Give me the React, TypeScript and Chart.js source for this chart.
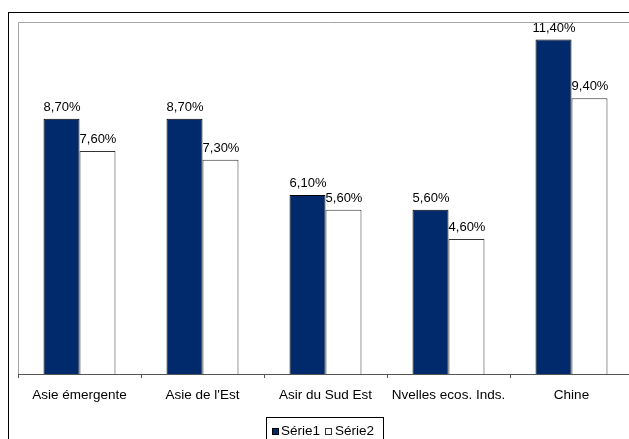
import React, { useEffect, useRef } from "react";
import { Chart, registerables } from "chart.js";

Chart.register(...registerables);

const categories = ["Asie émergente", "Asie de l'Est", "Asir du Sud Est", "Nvelles ecos. Inds.", "Chine"];
const serie1 = [8.7, 8.7, 6.1, 5.6, 11.4];
const serie2 = [7.6, 7.3, 5.6, 4.6, 9.4];
const seriesNames = ["Série1", "Série2"];
const yMin = 0;
const yMax = 12;

const FONT = "'Liberation Sans', Arial, sans-serif";
const NAVY = "#002a6b";

const fmt = (v: number) => v.toFixed(2).replace(".", ",") + "%";

export default function App() {
  const ref = useRef<HTMLCanvasElement | null>(null);

  useEffect(() => {
    document.body.style.margin = "0";
    const canvas = ref.current!;
    const framePlugin = {
      id: "frame",
      beforeDraw(chart: any) {
        const ctx = chart.ctx;
        const a = chart.chartArea;
        ctx.save();
        ctx.fillStyle = "#fff";
        ctx.fillRect(0, 0, chart.width, chart.height);
        ctx.strokeStyle = "#000";
        ctx.lineWidth = 1;
        ctx.strokeRect(8.5, 12.5, chart.width + 20, chart.height + 20);
        ctx.strokeStyle = "#a6a6a6";
        ctx.beginPath();
        ctx.moveTo(a.left + 0.5, a.bottom);
        ctx.lineTo(a.left + 0.5, a.top + 0.5);
        ctx.lineTo(chart.width + 5, a.top + 0.5);
        ctx.stroke();
        ctx.restore();
      },
      afterDraw(chart: any) {
        const ctx = chart.ctx;
        ctx.save();
        ctx.font = `13px ${FONT}`;
        ctx.fillStyle = "#000";
        ctx.textAlign = "center";
        ctx.textBaseline = "alphabetic";
        chart.data.datasets.forEach((ds: any, di: number) => {
          const meta = chart.getDatasetMeta(di);
          meta.data.forEach((bar: any, i: number) => {
            ctx.fillText(fmt(ds.data[i]), bar.x + 0.5, bar.y - 8);
          });
        });
        // legend
        ctx.font = `13.5px ${FONT}`;
        const lx = 266.5, ly = 417.5, lw = 117, lh = 30;
        ctx.strokeStyle = "#000";
        ctx.lineWidth = 1;
        ctx.strokeRect(lx, ly, lw, lh);
        const ty = 431;
        ctx.textAlign = "left";
        ctx.textBaseline = "middle";
        ctx.fillStyle = NAVY;
        ctx.fillRect(272, ty - 3, 7, 7);
        ctx.strokeStyle = "#000";
        ctx.strokeRect(272.5, ty - 2.5, 6, 6);
        ctx.fillStyle = "#000";
        const w1 = ctx.measureText(seriesNames[0]).width;
        ctx.fillText(seriesNames[0], 281, ty);
        const sx2 = Math.round(281 + w1 + 5);
        ctx.fillStyle = "#fff";
        ctx.fillRect(sx2, ty - 3, 7, 7);
        ctx.strokeStyle = "#333";
        ctx.strokeRect(sx2 + 0.5, ty - 2.5, 6, 6);
        ctx.fillStyle = "#000";
        ctx.fillText(seriesNames[1], sx2 + 10, ty);
        ctx.restore();
      },
    };

    const chart = new Chart(canvas, {
      type: "bar",
      data: {
        labels: categories,
        datasets: [
          {
            label: seriesNames[0],
            data: serie1,
            backgroundColor: NAVY,
            borderColor: "#000",
            borderWidth: 1,
            categoryPercentage: 0.585,
            barPercentage: 1.0,
          },
          {
            label: seriesNames[1],
            data: serie2,
            backgroundColor: "#ffffff",
            borderColor: "#333",
            borderWidth: 1,
            categoryPercentage: 0.585,
            barPercentage: 1.0,
          },
        ],
      },
      options: {
        responsive: false,
        animation: false,
        devicePixelRatio: 1,
        layout: { padding: { left: 18, top: 22, right: 7, bottom: 0 } },
        plugins: { legend: { display: false }, tooltip: { enabled: false }, title: { display: false } },
        scales: {
          x: {
            type: "category",
            offset: true,
            afterFit: (s: any) => {
              s.height = 65;
            },
            grid: {
              display: true,
              drawOnChartArea: false,
              drawTicks: true,
              tickLength: 4,
              offset: true,
              color: "#555",
            },
            border: { display: true, color: "#555", width: 1 },
            ticks: {
              color: "#000",
              font: { family: FONT, size: 13.5 },
              padding: 9,
              maxRotation: 0,
              autoSkip: false,
            },
          },
          y: {
            display: false,
            min: yMin,
            max: yMax,
          },
        },
      },
      plugins: [framePlugin],
    });
    return () => chart.destroy();
  }, []);

  return (
    <div style={{ position: "fixed", left: 0, top: 0, width: 629, height: 439, overflow: "hidden", background: "#fff" }}>
      <canvas ref={ref} width={640} height={439} style={{ display: "block" }} />
    </div>
  );
}
